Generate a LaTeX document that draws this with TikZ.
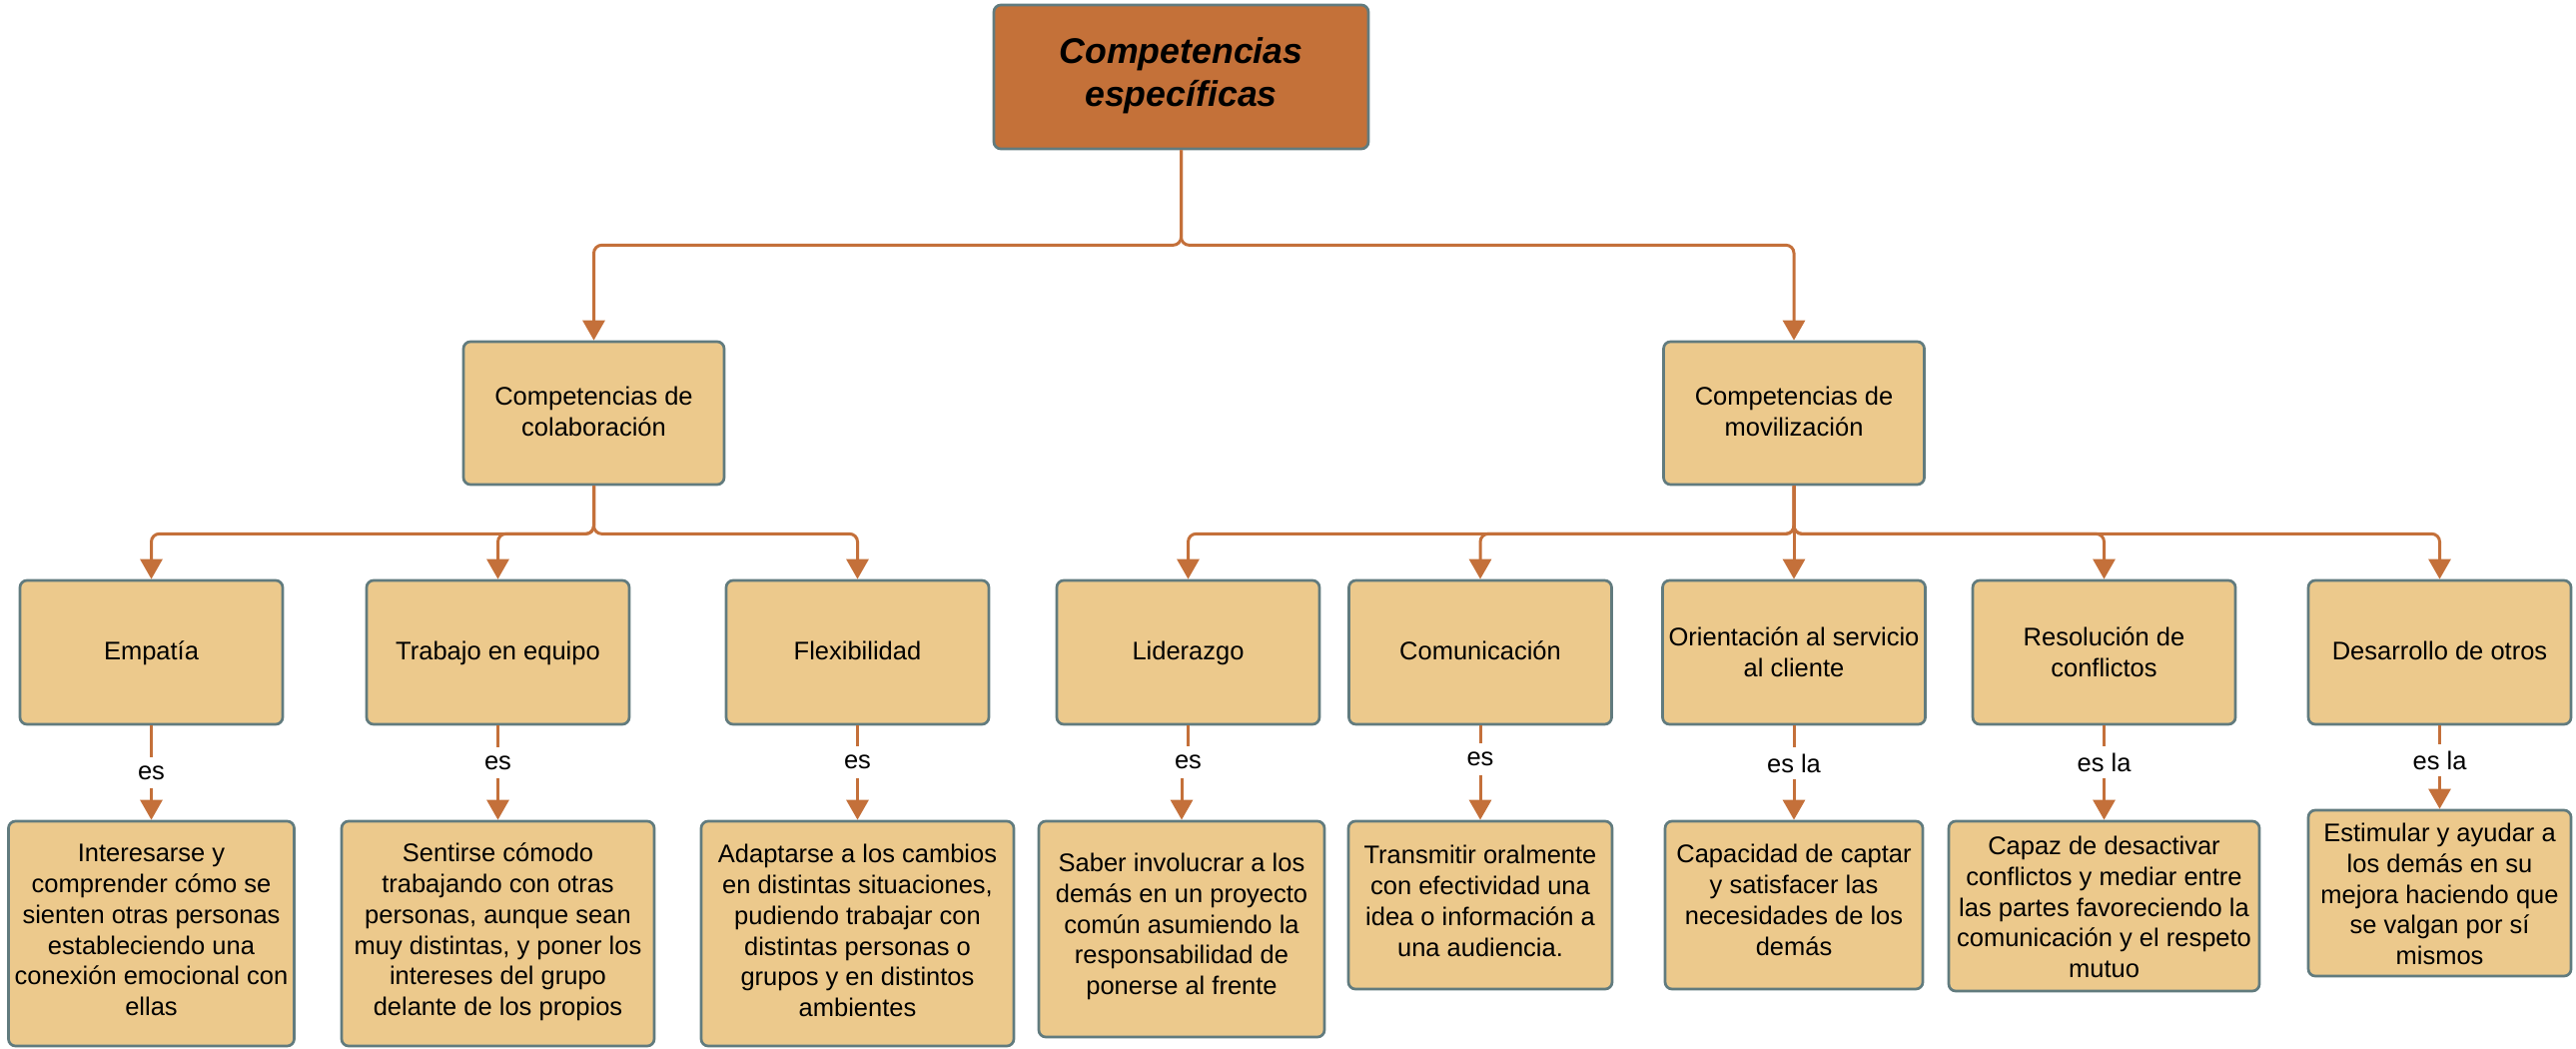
\documentclass[tikz,border=0pt]{standalone}
\usepackage{fontspec}
\setmainfont{Liberation Sans}
\usetikzlibrary{arrows.meta}
\definecolor{topfill}{HTML}{C47139}
\definecolor{boxfill}{HTML}{ECC98C}
\definecolor{boxline}{HTML}{617B7E}
\definecolor{conncol}{HTML}{C4703A}
\newcommand\boxtext[2]{\raisebox{#1}[\height][\depth]{\begin{tabular}{@{}c@{}}#2\end{tabular}}}
\begin{document}
\begin{tikzpicture}[x=1pt,y=-1pt,
  box/.style={draw=boxline, line width=2.7pt, fill=boxfill, rounded corners=7pt, inner sep=2pt,
    font=\fontsize{25.5}{30.8}\selectfont},
  rootbox/.style={box, fill=topfill, font=\fontsize{35.7}{43}\selectfont\bfseries\itshape},
  lvtwo/.style={box, minimum width=261pt, minimum height=143pt},
  lvthree/.style={box, minimum width=263pt, minimum height=144pt},
  link/.style={draw=conncol, line width=3pt, rounded corners=8pt},
  arr/.style={link, -{Triangle[width=22pt,length=20pt]}},
  lbl/.style={inner sep=0pt, minimum height=31pt, font=\fontsize{25.5}{30.5}\selectfont}]
\useasboundingbox (0,0) rectangle (2579,1049);

% root
\node[rootbox, minimum width=375pt, minimum height=144pt] (root) at (1182.5,77) {\boxtext{1pt}{Competencias\\específicas}};

% level 2
\node[lvtwo] (colab) at (594.5,413.5) {\boxtext{-1.5pt}{Competencias de\\colaboración}};
\node[lvtwo] (movil) at (1796,413.5) {\boxtext{-1.5pt}{Competencias de\\movilización}};

% level 3
\node[lvthree] (e1) at (151.5,653) {\boxtext{-1pt}{Empatía}};
\node[lvthree] (e2) at (498.5,653) {\boxtext{-1pt}{Trabajo en equipo}};
\node[lvthree] (e3) at (858.5,653) {\boxtext{-1pt}{Flexibilidad}};
\node[lvthree] (e4) at (1189.5,653) {\boxtext{-1pt}{Liderazgo}};
\node[lvthree] (e5) at (1482,653) {\boxtext{-1pt}{Comunicación}};
\node[lvthree] (e6) at (1796,653) {\boxtext{-3pt}{Orientación al servicio\\al cliente}};
\node[lvthree] (e7) at (2106.5,653) {\boxtext{-3pt}{Resolución de\\conflictos}};
\node[lvthree] (e8) at (2442.5,653) {\boxtext{-1pt}{Desarrollo de otros}};

% level 4
\node[box, minimum width=286pt, minimum height=225pt] (d1) at (151.5,934.5)
  {\boxtext{1pt}{Interesarse y\\comprender cómo se\\sienten otras personas\\estableciendo una\\conexión emocional con\\ellas}};
\node[box, minimum width=313pt, minimum height=225pt] (d2) at (498.5,934.5)
  {\boxtext{1pt}{Sentirse cómodo\\trabajando con otras\\personas, aunque sean\\muy distintas, y poner los\\intereses del grupo\\delante de los propios}};
\node[box, minimum width=313pt, minimum height=225pt] (d3) at (858.5,934.5)
  {\boxtext{0pt}{Adaptarse a los cambios\\en distintas situaciones,\\pudiendo trabajar con\\distintas personas o\\grupos y en distintos\\ambientes}};
\node[box, minimum width=286pt, minimum height=216pt] (d4) at (1183,930)
  {\boxtext{2pt}{Saber involucrar a los\\demás en un proyecto\\común asumiendo la\\responsabilidad de\\ponerse al frente}};
\node[box, minimum width=264pt, minimum height=168pt] (d5) at (1482,906)
  {\boxtext{1pt}{Transmitir oralmente\\con efectividad una\\idea o información a\\una audiencia.}};
\node[box, minimum width=258pt, minimum height=168pt] (d6) at (1796,906)
  {\boxtext{2pt}{Capacidad de captar\\y satisfacer las\\necesidades de los\\demás}};
\node[box, minimum width=311pt, minimum height=170pt] (d7) at (2106.5,907)
  {\boxtext{-4pt}{Capaz de desactivar\\conflictos y mediar entre\\las partes favoreciendo la\\comunicación y el respeto\\mutuo}};
\node[box, minimum width=263pt, minimum height=166pt] (d8) at (2442.5,894)
  {\boxtext{-4pt}{Estimular y ayudar a\\los demás en su\\mejora haciendo que\\se valgan por sí\\mismos}};

% connectors root -> level 2
\draw[arr] (root.south) -- ++(0,95) -| (colab.north);
\draw[arr] (root.south) -- ++(0,95) -| (movil.north);

% level 2 -> level 3
\foreach \c in {e1,e2,e3} {\draw[arr] (colab.south) -- ++(0,48) -| (\c.north);}
\foreach \c in {e4,e5,e7,e8} {\draw[arr] (movil.south) -- ++(0,48) -| (\c.north);}
\draw[arr] (movil.south) -- (e6.north);

% labels
\node[lbl] (l1) at (151.5,773.5) {es};
\node[lbl] (l2) at (498.5,763.5) {es};
\node[lbl] (l3) at (858.5,763) {es};
\node[lbl] (l4) at (1189.5,763) {es};
\node[lbl] (l5) at (1482,760) {es};
\node[lbl] (l6) at (1796,764) {es la};
\node[lbl] (l7) at (2106.5,763) {es la};
\node[lbl] (l8) at (2442.5,761) {es la};

% level 3 -> level 4
\foreach \i in {1,...,8} {
  \draw[link] (e\i.south) -- (l\i.north -| e\i.south);
  \draw[arr] (l\i.south -| d\i.north) -- (d\i.north);
}
\end{tikzpicture}
\end{document}
